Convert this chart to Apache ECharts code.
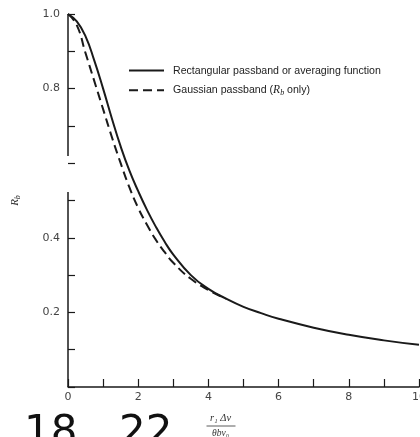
<!DOCTYPE html>
<html>
<head>
<meta charset="utf-8">
<script src="https://cdn.jsdelivr.net/npm/echarts@6/dist/echarts.min.js"></script>
<style>
  html, body { margin: 0; padding: 0; background: #fff; }
  #chart { width: 420px; height: 437px; }
</style>
</head>
<body>
<div id="chart"></div>
<script>
// Normalized response R_b versus r1*dv/(theta_b*nu0)
const rectX      = [0, 0.25, 0.5, 0.75, 1.0, 1.25, 1.5, 1.75, 2.0, 2.25, 2.5, 2.75, 3.0, 3.5, 4.0, 4.5, 5.0, 5.5, 6.0, 7.0, 8.0, 9.0, 10.0];
const rectValues = [1.0, 0.98, 0.94, 0.875, 0.80, 0.72, 0.645, 0.58, 0.525, 0.475, 0.43, 0.39, 0.355, 0.30, 0.263, 0.237, 0.215, 0.198, 0.183, 0.159, 0.14, 0.125, 0.113];

const gaussX      = [0, 0.25, 0.5, 0.75, 1.0, 1.25, 1.5, 1.75, 2.0, 2.25, 2.5, 2.75, 3.0, 3.5, 4.0, 4.5];
const gaussValues = [1.0, 0.97, 0.895, 0.82, 0.745, 0.67, 0.60, 0.535, 0.48, 0.435, 0.395, 0.362, 0.333, 0.29, 0.26, 0.237];

const seriesNames = ['Rectangular passband or averaging function', 'Gaussian passband (R_b only)'];
const xTickLabels = ['0', '2', '4', '6', '8', '10'];
const yTickLabels = ['0.2', '0.4', '0.8', '1.0'];
// the vertical axis is drawn with a break between these two values
const axisBreak = [0.523, 0.619];

const ink = '#1a1a1a';
const pairs = (xs, ys) => xs.map((x, i) => [x, ys[i]]);

const chart = echarts.init(document.getElementById('chart'), null, { renderer: 'canvas' });

chart.setOption({
  backgroundColor: '#fff',
  animation: false,
  grid: { left: 68, right: 1, top: 14, bottom: 50, containLabel: false, outerBoundsMode: 'none' },
  legend: {
    orient: 'vertical',
    left: 128,
    top: 65,
    padding: 0,
    itemWidth: 35,
    itemHeight: 14,
    itemGap: 8,
    selectedMode: false,
    itemStyle: { opacity: 0 },
    data: seriesNames,
    formatter: function (name) {
      return name === seriesNames[1]
        ? 'Gaussian passband ({i|R}{s|b} only)'
        : name;
    },
    textStyle: {
      fontFamily: 'Liberation Sans',
      fontSize: 10.6,
      color: '#222',
      padding: [0, 0, 0, 4],
      rich: {
        i: { fontFamily: 'Liberation Serif', fontStyle: 'italic', fontSize: 11.5, color: '#222' },
        s: { fontFamily: 'Liberation Serif', fontStyle: 'italic', fontSize: 8, color: '#222', padding: [5, 0, 0, 0] }
      }
    }
  },
  xAxis: {
    type: 'value',
    min: 0,
    max: 10,
    interval: 1,
    axisLine: { show: true, lineStyle: { color: ink, width: 1.5 } },
    axisTick: { show: true, inside: true, length: 8, lineStyle: { color: ink, width: 1.2 } },
    axisLabel: {
      color: '#444',
      fontFamily: 'DejaVu Sans',
      fontSize: 11,
      margin: 5,
      hideOverlap: false,
      formatter: v => (xTickLabels.includes(String(v)) ? String(v) : '')
    },
    splitLine: { show: false }
  },
  yAxis: {
    type: 'value',
    min: 0,
    max: 1.0,
    interval: 0.1,
    name: '{i|R}{s|b}',
    nameLocation: 'middle',
    nameRotate: 90,
    nameGap: 46,
    nameTextStyle: {
      rich: {
        i: { fontFamily: 'Liberation Serif', fontStyle: 'italic', fontSize: 11, color: '#333' },
        s: { fontFamily: 'Liberation Serif', fontStyle: 'italic', fontSize: 8, color: '#333', padding: [5, 0, 0, 0] }
      }
    },
    axisLine: { show: false },
    axisTick: { show: true, inside: true, length: 7, lineStyle: { color: ink, width: 1.2 } },
    axisLabel: {
      color: '#444',
      fontFamily: 'DejaVu Sans',
      fontSize: 11,
      margin: 8,
      formatter: v => {
        const s = v.toFixed(1);
        return yTickLabels.includes(s) ? s : '';
      }
    },
    splitLine: { show: false }
  },
  series: [
    {
      name: seriesNames[0],
      type: 'line',
      smooth: 0.5,
      symbol: 'none',
      clip: false,
      lineStyle: { color: ink, width: 2 },
      itemStyle: { color: ink },
      data: pairs(rectX, rectValues),
      markLine: {
        silent: true,
        symbol: ['none', 'none'],
        label: { show: false },
        lineStyle: { color: ink, width: 1.5, type: 'solid' },
        emphasis: { disabled: true },
        data: [
          [{ coord: [0, 0] }, { coord: [0, axisBreak[0]] }],
          [{ coord: [0, axisBreak[1]] }, { coord: [0, 1.0] }]
        ]
      }
    },
    {
      name: seriesNames[1],
      type: 'line',
      smooth: 0.5,
      symbol: 'none',
      lineStyle: { color: ink, width: 2, type: [9, 5] },
      itemStyle: { color: ink },
      data: pairs(gaussX, gaussValues)
    }
  ],
  graphic: [
    // horizontal axis title as a stacked fraction
    {
      type: 'group',
      left: 204,
      top: 413,
      children: [
        { type: 'text', x: 15, y: 0, style: { text: 'r₁ Δν', fontFamily: 'Liberation Serif', fontStyle: 'italic', fontSize: 10.5, fill: '#333', align: 'center' } },
        { type: 'line', shape: { x1: 1, y1: 13, x2: 30, y2: 13 }, style: { stroke: '#333', lineWidth: 0.8 } },
        { type: 'text', x: 15, y: 15, style: { text: 'θbν₀', fontFamily: 'Liberation Serif', fontStyle: 'italic', fontSize: 9.5, fill: '#333', align: 'center' } }
      ]
    },
    // page numbers along the bottom edge
    { type: 'text', x: 24, y: 413, style: { text: '18', fontFamily: 'DejaVu Sans', fontSize: 42, fill: '#111', verticalAlign: 'top' } },
    { type: 'text', x: 119, y: 413, style: { text: '22', fontFamily: 'DejaVu Sans', fontSize: 42, fill: '#111', verticalAlign: 'top' } }
  ]
});
</script>
</body>
</html>
